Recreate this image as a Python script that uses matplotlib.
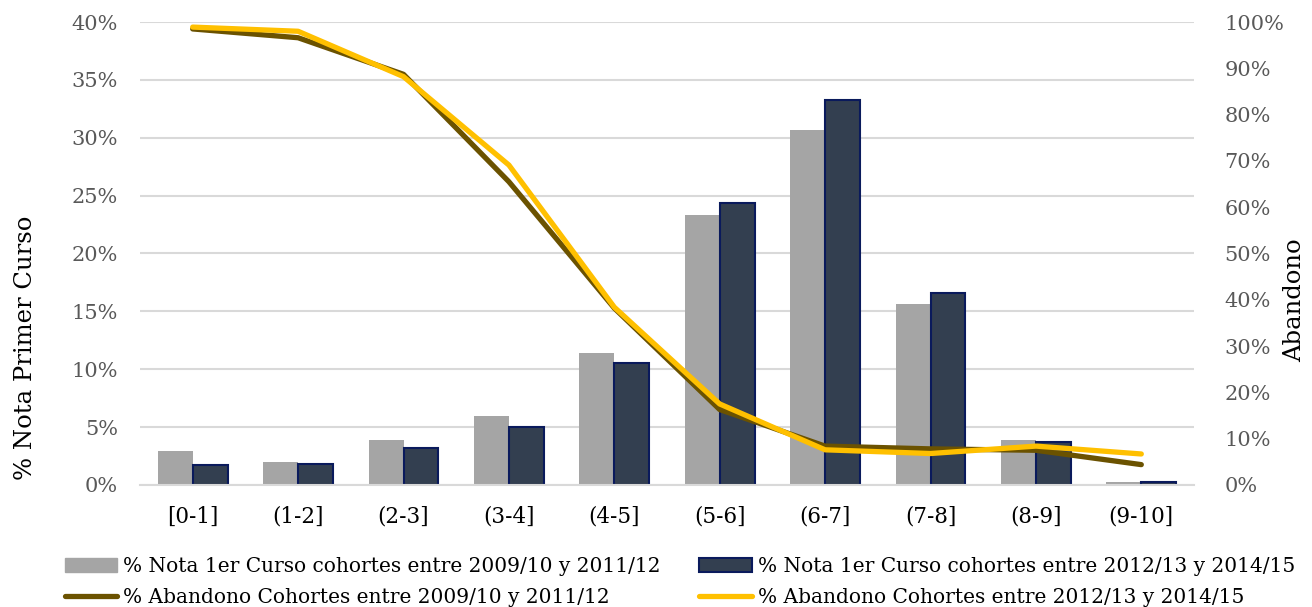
import matplotlib
matplotlib.use("Agg")
import matplotlib.pyplot as plt
import numpy as np
from matplotlib.ticker import FuncFormatter
from matplotlib.lines import Line2D
from matplotlib.patches import Patch

categories = ["[0-1]", "(1-2]", "(2-3]", "(3-4]", "(4-5]", "(5-6]", "(6-7]", "(7-8]", "(8-9]", "(9-10]"]
nota_0912 = [2.9, 2.0, 3.9, 6.0, 11.4, 23.3, 30.7, 15.6, 3.9, 0.3]
nota_1215 = [1.7, 1.8, 3.2, 5.0, 10.5, 24.4, 33.3, 16.6, 3.7, 0.3]
aband_0912 = [98.5, 96.6, 88.7, 65.5, 38.2, 16.3, 8.4, 7.8, 7.5, 4.4]
aband_1215 = [98.9, 98.0, 88.2, 69.1, 38.4, 17.5, 7.6, 6.8, 8.4, 6.7]

lab_g = "% Nota 1er Curso cohortes entre 2009/10 y 2011/12"
lab_n = "% Nota 1er Curso cohortes entre 2012/13 y 2014/15"
lab_d = "% Abandono Cohortes entre 2009/10 y 2011/12"
lab_y = "% Abandono Cohortes entre 2012/13 y 2014/15"

plt.rcParams['font.family'] = ['DejaVu Serif']

W, H = 1312, 607
fig = plt.figure(figsize=(W/100, H/100), dpi=100)
ax = fig.add_axes([140/W, 1-485/H, 1054/W, 463/H])
ax2 = ax.twinx()

x = np.arange(len(categories))
w = 0.332
gray = "#A5A5A5"
navy = "#333F50"
edge = "#0A1A5C"
ax.bar(x - w/2, nota_0912, w, color=gray, zorder=2)
ax.bar(x + w/2, nota_1215, w, color=navy, edgecolor=edge, linewidth=1.5, zorder=2)

ax.set_xlim(-0.5, len(categories) - 0.5)
ax.set_ylim(0, 40)
ax.set_yticks(np.arange(0, 41, 5))
ax.yaxis.set_major_formatter(FuncFormatter(lambda v, p: f"{v:.0f}%"))
ax.grid(axis='y', color="#D9D9D9", linewidth=1.5, zorder=0)
ax.set_axisbelow(True)
ax.set_xticks(x)
ax.set_xticklabels(categories)

ax2.plot(x, aband_0912, color="#6B5200", linewidth=3.8, solid_capstyle='round', zorder=3)
ax2.plot(x, aband_1215, color="#FFC000", linewidth=3.8, solid_capstyle='round', zorder=4)
ax2.set_ylim(0, 100)
ax2.set_yticks(np.arange(0, 101, 10))
ax2.yaxis.set_major_formatter(FuncFormatter(lambda v, p: f"{v:.0f}%"))

for a in (ax, ax2):
    for s in a.spines.values():
        s.set_visible(False)
    a.tick_params(length=0, labelsize=15, labelcolor="#595959")
ax.tick_params(axis='x', labelcolor="#000000", labelsize=15.5, pad=15)
ax.tick_params(axis='y', pad=16)
ax2.tick_params(axis='y', pad=22)
ax.spines['bottom'].set_visible(True)
ax.spines['bottom'].set_color("#D9D9D9")
ax.spines['bottom'].set_linewidth(1.5)

ax.set_ylabel("% Nota Primer Curso", fontsize=17.5, color="black")
ax.yaxis.set_label_coords((37-140)/1054, (485-348)/463)
ax2.set_ylabel("Abandono", fontsize=17.5, color="black")
ax2.yaxis.set_label_coords((1283-140)/1054, (485-300)/463)

handles = [Patch(facecolor=gray, edgecolor=gray),
           Patch(facecolor=navy, edgecolor=edge, linewidth=1.5),
           Line2D([0], [0], color="#6B5200", linewidth=3.8, solid_capstyle='round'),
           Line2D([0], [0], color="#FFC000", linewidth=3.8, solid_capstyle='round')]
labels = [lab_g, lab_n, lab_d, lab_y]
order = [0, 2, 1, 3]
fig.legend([handles[i] for i in order], [labels[i] for i in order],
           ncol=2, loc='upper left', bbox_to_anchor=(65/W, 1-557/H),
           frameon=False, fontsize=14.5, handlelength=2.6, handleheight=0.7,
           columnspacing=1.9, handletextpad=0.3, labelspacing=0.6,
           borderpad=0, borderaxespad=0)

fig.savefig("out.png", dpi=100)
